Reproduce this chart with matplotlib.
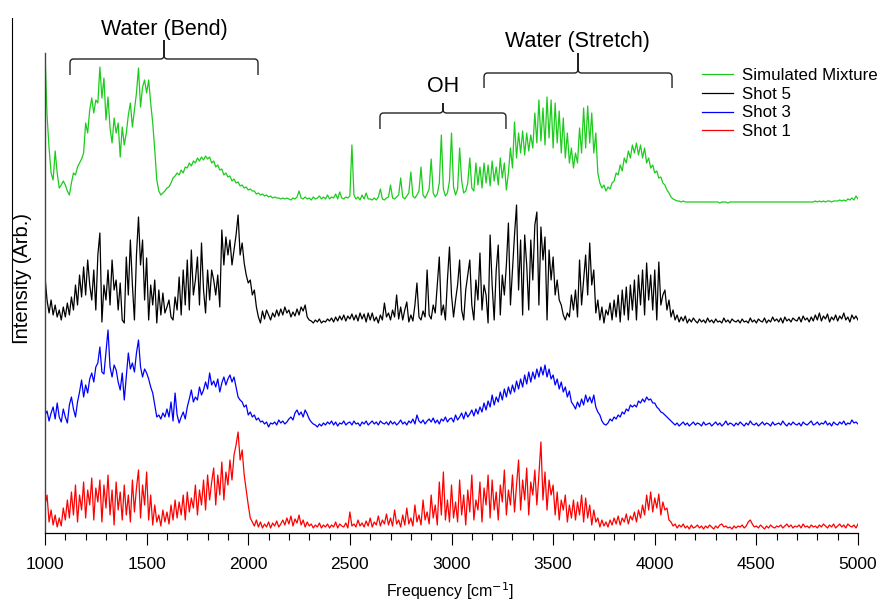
import numpy as np
import matplotlib.pyplot as plt
from matplotlib.path import Path
from matplotlib.patches import PathPatch
from matplotlib.lines import Line2D

plt.rcParams['font.family'] = ['Liberation Sans', 'DejaVu Sans']

# frequency grid [cm-1], 10 cm-1 steps
freq = np.arange(1000, 5001, 10)

# heights above each trace's own baseline (arb.)
sim_mix = [
    150, 88, 55, 30, 23, 52, 30, 15, 18, 22,
    18, 12, 8, 20, 30, 28, 36, 40, 44, 50,
    80, 70, 93, 105, 90, 103, 100, 136, 105, 125,
    83, 106, 75, 60, 85, 70, 80, 46, 76, 58,
    70, 88, 100, 76, 93, 110, 135, 96, 116, 123,
    110, 123, 100, 80, 53, 23, 12, 8, 10, 12,
    15, 16, 20, 25, 27, 30, 28, 33, 30, 36,
    35, 40, 37, 42, 40, 45, 42, 46, 43, 47,
    44, 46, 40, 42, 36, 38, 33, 34, 28, 30,
    26, 27, 22, 24, 20, 21, 17, 18, 15, 16,
    13, 14, 12, 12, 9, 10, 8, 9, 7, 8,
    6, 7, 5, 6, 5, 5, 4, 5, 4, 5,
    4, 3, 5, 4, 6, 12, 5, 4, 6, 4,
    5, 3, 6, 4, 5, 7, 4, 6, 4, 8,
    4, 6, 5, 9, 4, 11, 5, 4, 6, 5,
    7, 58, 8, 4, 6, 3, 8, 4, 10, 4,
    4, 3, 5, 3, 6, 14, 4, 3, 5, 6,
    18, 5, 4, 6, 8, 25, 6, 4, 7, 10,
    31, 7, 5, 8, 12, 36, 8, 5, 9, 14,
    44, 10, 6, 9, 20, 68, 14, 7, 10, 22,
    70, 16, 8, 14, 55, 22, 10, 12, 20, 45,
    15, 12, 40, 18, 36, 15, 40, 20, 38, 17,
    42, 22, 36, 18, 45, 25, 40, 13, 30, 55,
    35, 81, 45, 70, 50, 72, 48, 70, 52, 68,
    55, 90, 60, 103, 62, 95, 58, 106, 65, 103,
    55, 100, 60, 92, 50, 85, 45, 70, 40, 55,
    35, 50, 40, 75, 50, 95, 55, 97, 60, 90,
    50, 70, 30, 20, 15, 18, 12, 16, 14, 20,
    22, 30, 28, 38, 32, 45, 40, 52, 45, 58,
    50, 60, 48, 58, 45, 55, 40, 45, 35, 38,
    30, 32, 25, 26, 20, 18, 13, 10, 6, 4,
    3, 2, 2, 1, 2, 1, 1, 1, 1, 1,
    1, 1, 1, 1, 1, 1, 1, 1, 1, 1,
    1, 1, 0, 1, 1, 1, 0, 1, 1, 1,
    1, 1, 1, 1, 1, 1, 1, 1, 1, 1,
    1, 1, 1, 1, 1, 1, 1, 1, 1, 1,
    1, 1, 1, 1, 1, 1, 1, 1, 1, 1,
    1, 1, 1, 1, 1, 1, 1, 1, 1, 2,
    1, 2, 1, 2, 1, 2, 2, 1, 2, 2,
    2, 3, 2, 3, 2, 4, 3, 5, 3, 7,
    4]

shot5 = [
    48, 25, 12, 25, 10, 20, 8, 15, 5, 18,
    8, 22, 10, 28, 15, 40, 20, 50, 28, 58,
    30, 65, 40, 25, 55, 15, 70, 92, 3, 40,
    25, 55, 20, 65, 35, 45, 15, 42, 5, 2,
    68, 30, 85, 40, 5, 70, 108, 60, 85, 25,
    67, 5, 40, 20, 45, 2, 35, 10, 32, 12,
    18, 25, 8, 5, 28, 15, 48, 10, 55, 20,
    65, 15, 75, 30, 45, 68, 20, 82, 35, 12,
    55, 25, 55, 45, 30, 50, 18, 95, 60, 88,
    70, 85, 60, 75, 90, 110, 70, 82, 62, 50,
    42, 45, 30, 35, 18, 8, 2, 14, 6, 15,
    10, 5, 12, 8, 15, 9, 16, 10, 18, 12,
    15, 8, 13, 9, 16, 10, 18, 14, 20, 8,
    5, 4, 2, 5, 3, 6, 2, 4, 3, 6,
    4, 7, 3, 8, 4, 9, 5, 10, 4, 9,
    6, 11, 5, 10, 4, 12, 6, 11, 3, 12,
    5, 12, 4, 8, 2, 10, 5, 22, 8, 12,
    5, 15, 8, 30, 6, 18, 5, 15, 23, 3,
    10, 4, 20, 42, 8, 5, 14, 8, 55, 10,
    6, 20, 12, 40, 68, 10, 20, 5, 45, 78,
    30, 8, 25, 40, 65, 15, 5, 35, 50, 65,
    20, 5, 45, 25, 72, 15, 40, 30, 2, 90,
    40, 5, 55, 80, 10, 50, 30, 60, 102, 20,
    55, 90, 120, 35, 85, 10, 90, 60, 15, 85,
    45, 100, 113, 20, 98, 65, 88, 5, 75, 45,
    68, 30, 45, 25, 20, 10, 5, 12, 8, 30,
    15, 35, 8, 65, 20, 45, 70, 30, 82, 40,
    55, 12, 25, 5, 18, 2, 15, 10, 22, 5,
    25, 8, 30, 3, 35, 10, 38, 5, 40, 15,
    45, 5, 50, 20, 55, 10, 62, 25, 50, 15,
    55, 5, 63, 20, 30, 35, 15, 25, 8, 15,
    5, 10, 3, 8, 4, 9, 2, 6, 3, 7,
    4, 2, 6, 3, 5, 2, 7, 3, 5, 2,
    6, 3, 4, 2, 7, 3, 5, 2, 6, 4,
    3, 5, 2, 6, 3, 4, 2, 7, 3, 5,
    2, 6, 4, 3, 7, 2, 5, 3, 8, 4,
    6, 3, 7, 2, 8, 4, 6, 3, 7, 5,
    4, 8, 3, 9, 5, 7, 3, 8, 4, 10,
    5, 12, 4, 9, 6, 11, 3, 8, 5, 10,
    4, 9, 6, 12, 5, 8, 3, 10, 6, 9,
    5]

shot3 = [
    12, 16, 6, 14, 20, 8, 24, 10, 5, 18,
    10, 4, 22, 30, 18, 10, 25, 35, 47, 30,
    42, 34, 48, 54, 45, 60, 64, 80, 55, 53,
    75, 97, 60, 50, 62, 57, 45, 37, 54, 27,
    50, 74, 58, 64, 55, 74, 87, 60, 50, 58,
    54, 48, 40, 34, 22, 10, 12, 8, 14, 10,
    18, 10, 25, 6, 34, 12, 4, 10, 15, 8,
    20, 28, 37, 25, 30, 27, 40, 32, 37, 45,
    38, 54, 42, 46, 40, 48, 35, 44, 50, 42,
    48, 52, 45, 50, 40, 30, 27, 25, 20, 22,
    12, 15, 10, 12, 7, 9, 5, 6, 3, 5,
    0, 4, 3, 5, 2, 7, 4, 6, 3, 5,
    8, 10, 7, 14, 17, 12, 15, 10, 17, 13,
    8, 5, 3, 2, 0, 3, 1, 4, 2, 5,
    3, 6, 2, 5, 1, 4, 3, 6, 2, 4,
    5, 2, 6, 3, 4, 1, 5, 3, 6, 2,
    4, 6, 3, 5, 2, 6, 4, 3, 5, 2,
    6, 3, 5, 2, 4, 7, 3, 5, 2, 6,
    4, 8, 3, 12, 6, 4, 7, 3, 6, 8,
    5, 9, 4, 7, 3, 8, 6, 10, 5, 8,
    9, 5, 12, 7, 10, 14, 8, 15, 10, 13,
    17, 11, 18, 13, 20, 15, 24, 17, 26, 20,
    32, 22, 30, 25, 35, 27, 38, 30, 40, 33,
    42, 35, 46, 38, 48, 40, 52, 43, 55, 45,
    55, 48, 58, 50, 60, 52, 62, 50, 58, 48,
    52, 42, 48, 38, 45, 35, 40, 30, 36, 25,
    22, 18, 25, 20, 28, 22, 32, 25, 30, 24,
    32, 20, 15, 12, 6, 3, 2, 4, 8, 6,
    10, 8, 12, 10, 15, 13, 18, 16, 22, 20,
    22, 20, 26, 24, 28, 25, 30, 27, 28, 24,
    24, 20, 18, 15, 14, 12, 10, 8, 6, 4,
    2, 4, 1, 3, 5, 2, 4, 1, 3, 5,
    2, 4, 3, 1, 5, 2, 3, 4, 1, 3,
    5, 2, 4, 1, 3, 6, 2, 4, 3, 1,
    4, 2, 5, 3, 1, 4, 2, 6, 3, 2,
    4, 1, 3, 5, 2, 4, 3, 1, 5, 2,
    3, 4, 2, 6, 3, 1, 4, 2, 5, 3,
    2, 4, 1, 5, 3, 2, 4, 6, 2, 3,
    5, 2, 4, 3, 6, 2, 4, 1, 5, 3,
    2, 5, 3, 6, 2, 4, 3, 7, 4, 5,
    3]

shot1 = [
    25, 35, 8, 20, 5, 15, 3, 12, 4, 22,
    10, 30, 12, 38, 15, 45, 8, 35, 20, 48,
    12, 40, 25, 52, 10, 42, 28, 50, 8, 45,
    22, 55, 15, 40, 5, 48, 20, 38, 10, 45,
    15, 35, 8, 50, 18, 42, 60, 12, 45, 25,
    58, 10, 35, 5, 25, 8, 15, 4, 20, 8,
    18, 6, 25, 10, 30, 12, 28, 15, 35, 10,
    38, 18, 32, 22, 45, 15, 40, 25, 50, 20,
    55, 30, 48, 62, 25, 55, 35, 68, 30, 58,
    45, 70, 50, 75, 85, 98, 70, 80, 55, 40,
    25, 12, 8, 4, 10, 3, 8, 2, 6, 3,
    8, 2, 7, 4, 9, 3, 6, 10, 5, 12,
    6, 14, 4, 11, 7, 15, 5, 10, 3, 8,
    4, 6, 2, 5, 3, 7, 2, 5, 3, 6,
    2, 5, 3, 8, 2, 6, 4, 3, 7, 2,
    18, 4, 6, 3, 10, 4, 7, 3, 9, 4,
    12, 3, 8, 5, 14, 4, 10, 6, 16, 5,
    12, 4, 20, 6, 10, 3, 15, 5, 22, 6,
    12, 4, 25, 8, 15, 5, 30, 10, 18, 6,
    35, 12, 25, 5, 48, 15, 58, 10, 30, 8,
    45, 12, 28, 8, 50, 15, 35, 5, 40, 18,
    55, 10, 30, 20, 48, 8, 42, 25, 55, 12,
    50, 20, 38, 10, 45, 28, 60, 15, 40, 25,
    55, 18, 45, 70, 20, 50, 30, 62, 15, 48,
    35, 60, 25, 55, 88, 30, 58, 20, 50, 35,
    45, 15, 38, 10, 30, 20, 35, 8, 25, 12,
    30, 10, 28, 15, 35, 8, 32, 12, 25, 5,
    20, 8, 12, 3, 10, 4, 8, 3, 10, 5,
    12, 6, 14, 5, 12, 8, 16, 6, 14, 10,
    18, 8, 20, 12, 25, 15, 35, 20, 38, 18,
    32, 22, 36, 15, 28, 20, 22, 10, 8, 4,
    6, 2, 5, 3, 6, 2, 4, 1, 5, 2,
    3, 5, 2, 4, 1, 4, 2, 5, 3, 1,
    4, 2, 5, 6, 3, 4, 2, 3, 1, 4,
    2, 4, 3, 5, 2, 4, 8, 10, 6, 3,
    4, 2, 5, 3, 1, 4, 2, 5, 3, 2,
    4, 3, 5, 2, 4, 6, 3, 5, 2, 4,
    3, 5, 2, 6, 3, 4, 2, 5, 3, 4,
    2, 5, 3, 6, 4, 2, 5, 3, 6, 2,
    4, 6, 3, 5, 2, 6, 4, 3, 5, 2,
    6]

labels = ['Simulated Mixture', 'Shot 5', 'Shot 3', 'Shot 1']
colors = ['#1ccc1c', 'black', '#0000ff', '#ff0000']
offsets = [330, 208, 106, 3]

for s in (sim_mix, shot5, shot3, shot1):
    assert len(s) == len(freq), len(s)


def brace(ax, x0, x1, y_bar, y_end, y_tip, rx=18, ry=4):
    xc = (x0 + x1) / 2
    verts = [(x0, y_end), (x0, y_bar - ry), (x0, y_bar), (x0 + rx, y_bar),
             (xc - rx, y_bar), (xc, y_bar), (xc, y_bar + ry), (xc, y_tip),
             (xc, y_bar + ry), (xc, y_bar), (xc + rx, y_bar),
             (x1 - rx, y_bar), (x1, y_bar), (x1, y_bar - ry), (x1, y_end)]
    codes = [Path.MOVETO, Path.LINETO, Path.CURVE3, Path.CURVE3,
             Path.LINETO, Path.CURVE3, Path.CURVE3, Path.LINETO,
             Path.LINETO, Path.CURVE3, Path.CURVE3,
             Path.LINETO, Path.CURVE3, Path.CURVE3, Path.LINETO]
    ax.add_patch(PathPatch(Path(verts, codes), fill=False, lw=1.0,
                           ec='#222222', clip_on=False))


fig = plt.figure(figsize=(8.81, 6.04), dpi=100)
ax = fig.add_axes([45 / 881, 71 / 604, 813 / 881, 480 / 604])

series = [sim_mix, shot5, shot3, shot1]
for s, lab, c, off in zip(series, labels, colors, offsets):
    ax.plot(freq, np.array(s) + off, color=c, lw=0.9, label=lab)

ax.set_xlim(1000, 5000)
ax.set_ylim(0, 480)
ax.set_xticks(np.arange(1000, 5001, 500))
ax.set_xticks(np.arange(1000, 5001, 100), minor=True)
ax.set_yticks([])
ax.tick_params(axis='x', which='major', direction='out', length=8.5,
               width=0.8, labelsize=12.5, pad=9)
ax.tick_params(axis='x', which='minor', direction='out', length=5, width=0.8)
for side in ('top', 'right'):
    ax.spines[side].set_visible(False)
ax.spines['left'].set_color('#444444')
ax.spines['left'].set_linewidth(1.0)
ax.spines['bottom'].set_linewidth(0.9)

ax.set_xlabel('Frequency [cm$^{-1}$]', fontsize=11.5)
ax.xaxis.set_label_coords(0.498, -0.099)
ax.set_ylabel('Intensity (Arb.)', fontsize=14.5)
ax.yaxis.set_label_coords(-0.016, 0.531)

# band annotations
brace(ax, 1123, 2048, 474, 458, 493)
ax.text(1586, 504, 'Water (Bend)', ha='center', va='center', fontsize=15.5)
brace(ax, 2648, 3268, 420, 404, 430)
ax.text(2958, 446, 'OH', ha='center', va='center', fontsize=15.5)
brace(ax, 3160, 4085, 460, 445, 480)
ax.text(3622, 492, 'Water (Stretch)', ha='center', va='center', fontsize=15.5)

ax.legend(loc='upper left', bbox_to_anchor=(702 / 881, 1 - 68 / 604),
          bbox_transform=fig.transFigure, frameon=False, fontsize=12.2,
          borderpad=0, borderaxespad=0, handlelength=1.85,
          handletextpad=0.5, labelspacing=0.22)

fig.add_artist(Line2D([12 / 881, 12 / 881], [1 - 18 / 604, 1 - 342 / 604],
                      transform=fig.transFigure, color='black', lw=0.8))

fig.savefig('out.png', dpi=100)
